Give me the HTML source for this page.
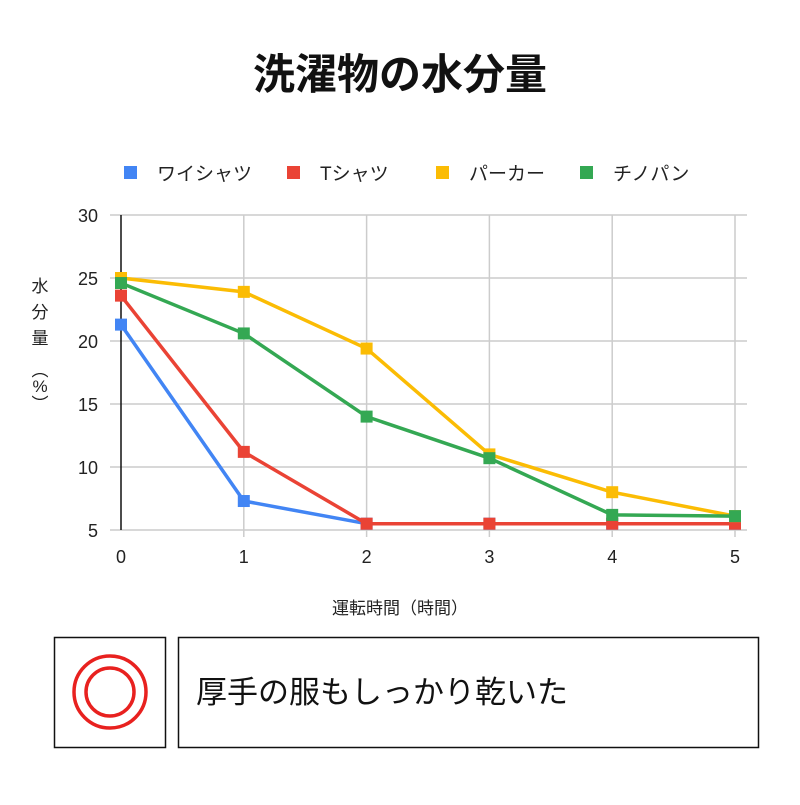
<!DOCTYPE html>
<html><head><meta charset="utf-8"><style>
body{margin:0;background:#fff;font-family:"Liberation Sans","Noto Sans CJK JP",sans-serif;}
#wrap{position:relative;width:800px;height:800px;}
</style></head><body>
<div id="wrap">
<svg id="chart" width="800" height="800" font-family="'Liberation Sans','Noto Sans CJK JP',sans-serif">
<text x="400" y="89" text-anchor="middle" font-size="42" font-weight="bold" fill="#111">洗濯物の水分量</text>
<g id="grid"></g>
<g id="series"></g>
<g id="legend"></g>
<text x="400" y="614" text-anchor="middle" font-size="17" fill="#222">運転時間（時間）</text>
<text x="40" y="292" text-anchor="middle" font-size="17" fill="#222"><tspan x="40" y="292">水</tspan><tspan x="40" y="318">分</tspan><tspan x="40" y="344">量</tspan><tspan x="40" y="376">︵</tspan><tspan x="40" y="392">%</tspan><tspan x="40" y="410">︶</tspan></text>
<rect x="54.5" y="637.5" width="111" height="110" fill="none" stroke="#111" stroke-width="1.5"/>
<circle cx="110" cy="692" r="36" fill="none" stroke="#e8211f" stroke-width="3.5"/>
<circle cx="110" cy="692" r="24" fill="none" stroke="#e8211f" stroke-width="3.5"/>
<rect x="178.5" y="637.5" width="580" height="110" fill="none" stroke="#111" stroke-width="1.5"/>
<text x="196" y="703" font-size="31" fill="#111">厚手の服もしっかり乾いた</text>
</svg>
</div>
<script>
const categories=[0,1,2,3,4,5];
const yTicks=[5,10,15,20,25,30];
const seriesNames=["ワイシャツ","Tシャツ","パーカー","チノパン"];
const shirt=[21.3,7.3,5.5,5.5,5.5,5.5];
const tshirt=[23.6,11.2,5.5,5.5,5.5,5.5];
const parka=[25,23.9,19.4,11,8,6.1];
const chino=[24.6,20.6,14.0,10.7,6.2,6.1];
const colors=["#4285f4","#ea4335","#fbbc04","#34a853"];
const NS="http://www.w3.org/2000/svg";
const X=v=>121+v*(735-121)/5;
const Y=v=>530-(v-5)*(530-215)/25;
function mk(tag,attrs,parent){const e=document.createElementNS(NS,tag);for(const k in attrs)e.setAttribute(k,attrs[k]);parent.appendChild(e);return e;}
const grid=document.getElementById('grid');
yTicks.forEach(t=>{
 const l=mk('line',{x1:110,x2:747,y1:Y(t),y2:Y(t),stroke:'#cccccc','stroke-width':1.5},grid);
 
 
 const tx=mk('text',{x:98,y:Y(t)+7,'text-anchor':'end','font-size':18,fill:'#222'},grid);
 tx.textContent=t;
 
 
});
categories.forEach(c=>{
 if(c>0){const l=mk('line',{x1:X(c),x2:X(c),y1:215,y2:537,stroke:'#cccccc','stroke-width':1.5},grid);
 
 }
 const tx=mk('text',{x:X(c),y:563,'text-anchor':'middle','font-size':18,fill:'#222'},grid);
 tx.textContent=c;
 
 
});
const ax=mk('line',{x1:121,x2:121,y1:215,y2:530,stroke:'#111','stroke-width':1.5},grid);


const sg=document.getElementById('series');
[shirt,tshirt,parka,chino].forEach((d,i)=>{
 const p=mk('polyline',{points:d.map((v,j)=>X(categories[j])+','+Y(v)).join(' '),fill:'none',stroke:colors[i],'stroke-width':3.5,'stroke-linejoin':'round'},sg);
 
 
 d.forEach((v,j)=>{
  const r=mk('rect',{x:X(categories[j])-6,y:Y(v)-6,width:12,height:12,fill:colors[i]},sg);
  
  
 });
});
const lg=document.getElementById('legend');
const lx=[124,287,436,580];
seriesNames.forEach((n,i)=>{
 const r=mk('rect',{x:lx[i],y:166,width:13,height:13,fill:colors[i]},lg);
 
 
 const t=mk('text',{x:lx[i]+33,y:180,'font-size':19,fill:'#222'},lg);
 t.textContent=n;
 
 
});
</script>
</body></html>
